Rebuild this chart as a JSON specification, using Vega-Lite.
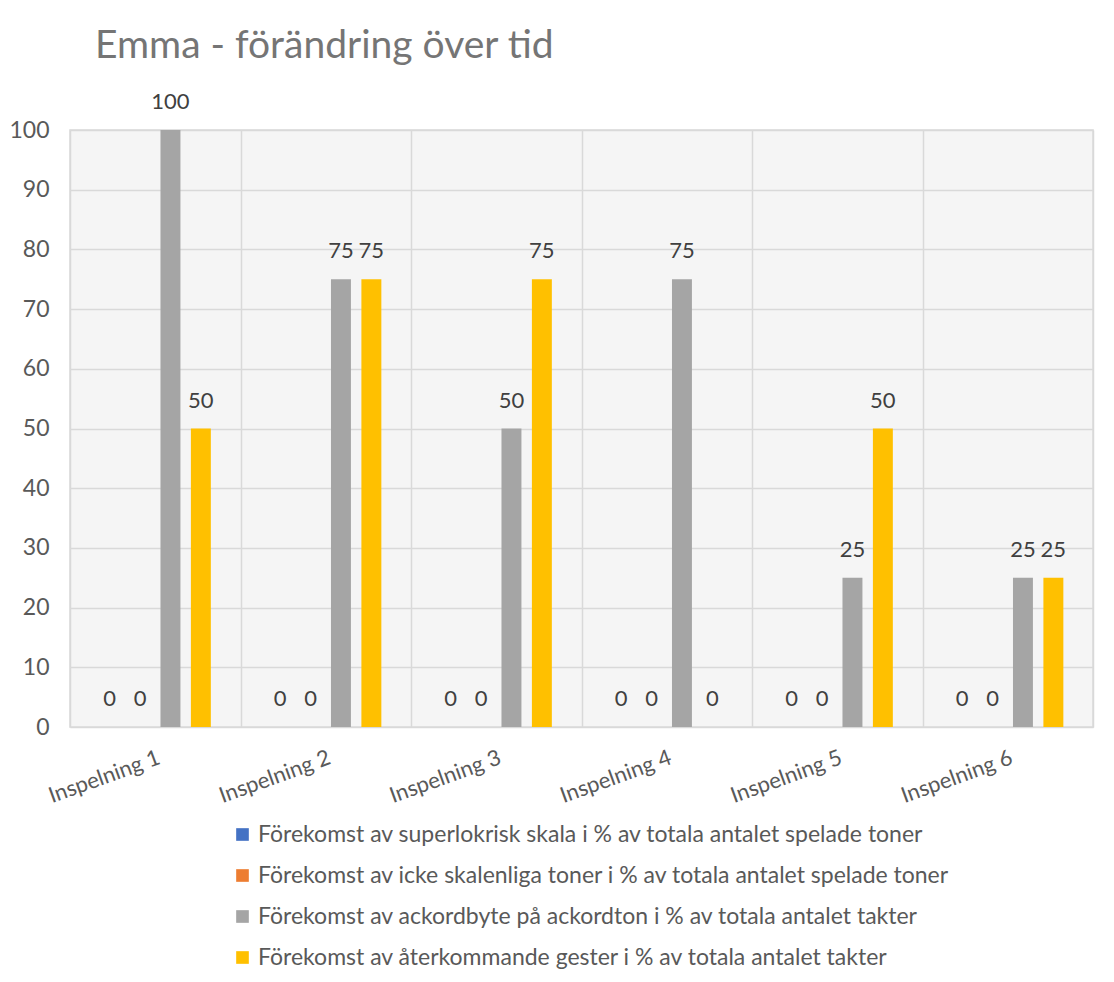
{
  "$schema": "https://vega.github.io/schema/vega-lite/v6.json",
  "width": 1023,
  "height": 597,
  "autosize": "none",
  "padding": {"left": 70, "top": 130, "right": 21, "bottom": 255},
  "background": "white",
  "title": {
    "text": "Emma - förändring över tid",
    "anchor": "start",
    "frame": "group",
    "font": "Lato",
    "fontSize": 39,
    "fontWeight": "normal",
    "color": "#757575",
    "dx": 25,
    "offset": 25
  },
  "data": {
    "values": [
      {"cat": "Inspelning 1", "serie": "Förekomst av superlokrisk skala i % av totala antalet spelade toner", "value": 0},
      {"cat": "Inspelning 1", "serie": "Förekomst av icke skalenliga toner i % av totala antalet spelade toner", "value": 0},
      {"cat": "Inspelning 1", "serie": "Förekomst av ackordbyte på ackordton i % av totala antalet takter", "value": 100},
      {"cat": "Inspelning 1", "serie": "Förekomst av återkommande gester i % av totala antalet takter", "value": 50},
      {"cat": "Inspelning 2", "serie": "Förekomst av superlokrisk skala i % av totala antalet spelade toner", "value": 0},
      {"cat": "Inspelning 2", "serie": "Förekomst av icke skalenliga toner i % av totala antalet spelade toner", "value": 0},
      {"cat": "Inspelning 2", "serie": "Förekomst av ackordbyte på ackordton i % av totala antalet takter", "value": 75},
      {"cat": "Inspelning 2", "serie": "Förekomst av återkommande gester i % av totala antalet takter", "value": 75},
      {"cat": "Inspelning 3", "serie": "Förekomst av superlokrisk skala i % av totala antalet spelade toner", "value": 0},
      {"cat": "Inspelning 3", "serie": "Förekomst av icke skalenliga toner i % av totala antalet spelade toner", "value": 0},
      {"cat": "Inspelning 3", "serie": "Förekomst av ackordbyte på ackordton i % av totala antalet takter", "value": 50},
      {"cat": "Inspelning 3", "serie": "Förekomst av återkommande gester i % av totala antalet takter", "value": 75},
      {"cat": "Inspelning 4", "serie": "Förekomst av superlokrisk skala i % av totala antalet spelade toner", "value": 0},
      {"cat": "Inspelning 4", "serie": "Förekomst av icke skalenliga toner i % av totala antalet spelade toner", "value": 0},
      {"cat": "Inspelning 4", "serie": "Förekomst av ackordbyte på ackordton i % av totala antalet takter", "value": 75},
      {"cat": "Inspelning 4", "serie": "Förekomst av återkommande gester i % av totala antalet takter", "value": 0},
      {"cat": "Inspelning 5", "serie": "Förekomst av superlokrisk skala i % av totala antalet spelade toner", "value": 0},
      {"cat": "Inspelning 5", "serie": "Förekomst av icke skalenliga toner i % av totala antalet spelade toner", "value": 0},
      {"cat": "Inspelning 5", "serie": "Förekomst av ackordbyte på ackordton i % av totala antalet takter", "value": 25},
      {"cat": "Inspelning 5", "serie": "Förekomst av återkommande gester i % av totala antalet takter", "value": 50},
      {"cat": "Inspelning 6", "serie": "Förekomst av superlokrisk skala i % av totala antalet spelade toner", "value": 0},
      {"cat": "Inspelning 6", "serie": "Förekomst av icke skalenliga toner i % av totala antalet spelade toner", "value": 0},
      {"cat": "Inspelning 6", "serie": "Förekomst av ackordbyte på ackordton i % av totala antalet takter", "value": 25},
      {"cat": "Inspelning 6", "serie": "Förekomst av återkommande gester i % av totala antalet takter", "value": 25}
    ]
  },
  "encoding": {
    "x": {
      "field": "cat",
      "type": "nominal",
      "sort": null,
      "scale": {"paddingInner": 0, "paddingOuter": 0},
      "axis": {
        "title": null,
        "grid": true,
        "gridColor": "#d9d9d9",
        "gridWidth": 1.5,
        "tickBand": "extent",
        "ticks": false,
        "domain": false,
        "labelAngle": -20,
        "labelAlign": "right",
        "labelBaseline": "top",
        "labelPadding": 20,
        "labelFont": "Lato",
        "labelFontSize": 22,
        "labelColor": "#595959"
      }
    },
    "xOffset": {
      "field": "serie",
      "type": "nominal",
      "sort": null,
      "scale": {"paddingInner": 0.344, "paddingOuter": 0.975}
    },
    "y": {
      "field": "value",
      "type": "quantitative",
      "scale": {"domain": [0, 100]},
      "axis": {
        "title": null,
        "values": [0, 10, 20, 30, 40, 50, 60, 70, 80, 90, 100],
        "grid": true,
        "gridColor": "#d9d9d9",
        "gridWidth": 1.5,
        "ticks": false,
        "domain": false,
        "labelPadding": 21,
        "labelFont": "Lato",
        "labelFontSize": 23,
        "labelColor": "#595959"
      }
    }
  },
  "layer": [
    {
      "mark": {"type": "bar"},
      "encoding": {
        "color": {
          "field": "serie",
          "type": "nominal",
          "scale": {
            "domain": [
              "Förekomst av superlokrisk skala i % av totala antalet spelade toner",
              "Förekomst av icke skalenliga toner i % av totala antalet spelade toner",
              "Förekomst av ackordbyte på ackordton i % av totala antalet takter",
              "Förekomst av återkommande gester i % av totala antalet takter"
            ],
            "range": ["#4472C4", "#ED7D31", "#A5A5A5", "#FFC000"]
          },
          "legend": {
            "title": null,
            "orient": "none",
            "legendX": 161,
            "legendY": 693,
            "direction": "vertical",
            "symbolType": "square",
            "symbolSize": 160,
            "symbolStrokeWidth": 0,
            "symbolOpacity": 1,
            "labelFont": "Lato",
            "labelFontSize": 23,
            "labelColor": "#595959",
            "labelLimit": 900,
            "rowPadding": 17,
            "labelOffset": 4
          }
        }
      }
    },
    {
      "mark": {"type": "text", "dy": -28, "font": "Lato", "fontSize": 22, "color": "#404040", "baseline": "middle"},
      "encoding": {
        "text": {"field": "value", "type": "quantitative"}
      }
    }
  ],
  "config": {
    "view": {"fill": "#f5f5f5", "stroke": "#d9d9d9", "strokeWidth": 1.5}
  }
}
